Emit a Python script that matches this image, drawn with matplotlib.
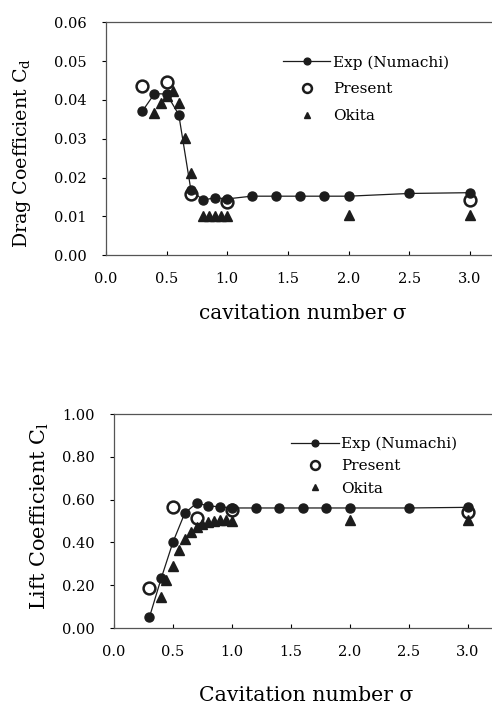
import numpy as np
from matplotlib import pyplot as plt

plt.rcParams['font.family'] = ['DejaVu Serif']
plt.rcParams['mathtext.fontset'] = 'dejavuserif'

# drag coefficient
cd_exp_x = [0.3, 0.4, 0.5, 0.6, 0.7, 0.8, 0.9, 1.0, 1.2, 1.4, 1.6, 1.8, 2.0, 2.5, 3.0]
cd_exp_y = [0.0371, 0.0416, 0.0415, 0.0362, 0.0168, 0.0142, 0.0148, 0.0145, 0.0152, 0.0152,
            0.0152, 0.0152, 0.0152, 0.0159, 0.0161]
cd_pre_x = [0.3, 0.5, 0.7, 1.0, 3.0]
cd_pre_y = [0.0436, 0.0446, 0.0158, 0.0137, 0.0141]
cd_oki_x = [0.4, 0.45, 0.5, 0.55, 0.6, 0.65, 0.7, 0.8, 0.85, 0.9, 0.95, 1.0, 2.0, 3.0]
cd_oki_y = [0.0365, 0.0393, 0.0410, 0.0424, 0.0393, 0.0302, 0.0211, 0.0101, 0.0101, 0.0101,
            0.0101, 0.0101, 0.0104, 0.0103]

# lift coefficient
cl_exp_x = [0.3, 0.4, 0.5, 0.6, 0.7, 0.8, 0.9, 1.0, 1.2, 1.4, 1.6, 1.8, 2.0, 2.5, 3.0]
cl_exp_y = [0.05, 0.232, 0.402, 0.537, 0.584, 0.571, 0.566, 0.561, 0.561, 0.561, 0.561,
            0.561, 0.561, 0.561, 0.564]
cl_pre_x = [0.3, 0.5, 0.7, 1.0, 3.0]
cl_pre_y = [0.188, 0.564, 0.516, 0.553, 0.542]
cl_oki_x = [0.4, 0.44, 0.5, 0.55, 0.6, 0.65, 0.7, 0.75, 0.8, 0.85, 0.9, 0.95, 1.0, 2.0, 3.0]
cl_oki_y = [0.146, 0.226, 0.288, 0.364, 0.415, 0.448, 0.472, 0.487, 0.495, 0.502, 0.506,
            0.506, 0.498, 0.503, 0.506]

xticks = [0.0, 0.5, 1.0, 1.5, 2.0, 2.5, 3.0]
cd_ticks = [0.0, 0.01, 0.02, 0.03, 0.04, 0.05, 0.06]
cl_ticks = [0.0, 0.2, 0.4, 0.6, 0.8, 1.0]

dark = '#1c1c1c'

fig = plt.figure(figsize=(4.92, 7.05), dpi=100)
ax1 = fig.add_axes([0.2154, 0.638, 0.80, 0.3305])
ax2 = fig.add_axes([0.2317, 0.1092, 0.78, 0.3035])


def draw(ax, ex, ey, px, py, ox, oy, xmax):
    ax.plot(ex, ey, '-o', color=dark, lw=0.9, ms=6.5, mfc=dark, mec=dark,
            label='Exp (Numachi)', zorder=3)
    ax.plot(px, py, 'o', ms=8.5, mfc='none', mec=dark, mew=1.8,
            label='Present', zorder=4)
    ax.plot(ox, oy, '^', ms=6.5, color=dark, label='Okita', zorder=2)
    ax.set_xlim(0, xmax)
    ax.set_xticks(xticks)
    ax.set_xticklabels(['%.1f' % t for t in xticks])
    ax.tick_params(axis='x', direction='in', length=3, pad=12, labelsize=10.5)
    ax.tick_params(axis='y', direction='out', length=3, pad=11, labelsize=10.5)
    for s in ax.spines.values():
        s.set_color('#555555')
        s.set_linewidth(0.9)
    ax.spines['right'].set_visible(False)


draw(ax1, cd_exp_x, cd_exp_y, cd_pre_x, cd_pre_y, cd_oki_x, cd_oki_y, 0.80 * 492 / 121.3)
ax1.set_ylim(0, 0.06)
ax1.set_yticks(cd_ticks)
ax1.set_yticklabels(['%.2f' % t for t in cd_ticks])
ax1.set_ylabel(r'Drag Coefficient C$_\mathregular{d}$', fontsize=13.7)
ax1.yaxis.set_label_coords(-0.185, 0.437)
ax1.set_xlabel('cavitation number σ', fontsize=14.5, labelpad=13)
ax1.legend(loc='upper left', bbox_to_anchor=(0.415, 0.917), frameon=False, fontsize=11,
           markerscale=0.75, handlelength=3.1, handletextpad=0.2, labelspacing=0.83)

draw(ax2, cl_exp_x, cl_exp_y, cl_pre_x, cl_pre_y, cl_oki_x, cl_oki_y, 0.78 * 492 / 118.0)
ax2.set_ylim(0, 1.0)
ax2.set_yticks(cl_ticks)
ax2.set_yticklabels(['%.2f' % t for t in cl_ticks])
ax2.set_ylabel(r'Lift Coefficient C$_\mathregular{l}$', fontsize=15)
ax2.yaxis.set_label_coords(-0.164, 0.523)
ax2.set_xlabel('Cavitation number σ', fontsize=14.7, labelpad=20)
ax2.legend(loc='upper left', bbox_to_anchor=(0.426, 0.958), frameon=False, fontsize=11,
           markerscale=0.75, handlelength=3.1, handletextpad=0.15, labelspacing=0.54)

fig.savefig('out.png', dpi=100)
